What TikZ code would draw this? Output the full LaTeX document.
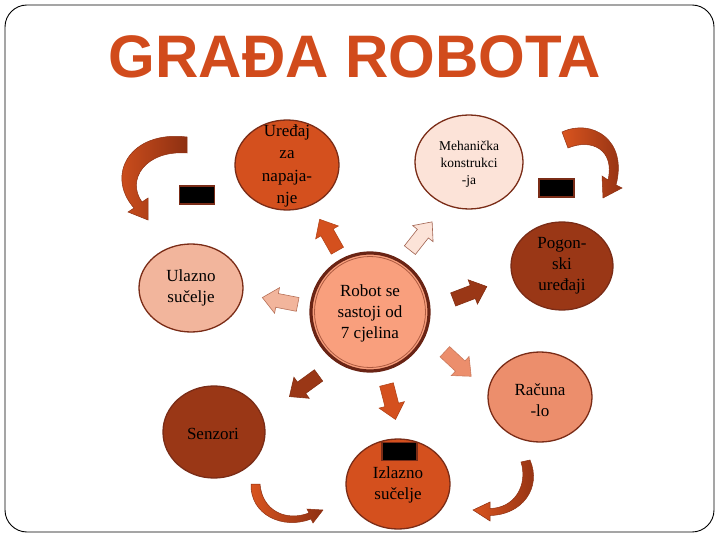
\documentclass[tikz,border=0pt]{standalone}
\usepackage{fontspec}
\setmainfont{Liberation Serif}
\newfontfamily\titlefont{Liberation Sans}
\usetikzlibrary{shapes.geometric}
\definecolor{titlec}{HTML}{D14B1C}
\definecolor{orng}{HTML}{D4501E}
\definecolor{pinkl}{HTML}{FCE3D8}
\definecolor{brownd}{HTML}{9A3716}
\definecolor{salm}{HTML}{EC8E6C}
\definecolor{salml}{HTML}{F2B59C}
\definecolor{centerc}{HTML}{F99F7D}
\definecolor{edgec}{HTML}{7A2C17}
\definecolor{ringc}{HTML}{6A2415}
\definecolor{curvl}{HTML}{D9541F}
\definecolor{curvd}{HTML}{8E3012}
\begin{document}
\begin{tikzpicture}[x=1pt,y=-1pt,
  every node/.style={inner sep=0pt, outer sep=0pt},
  part/.style={ellipse, draw=edgec, line width=1.3pt},
  lbl/.style={align=center, text=black, font=\fontsize{17}{21}\selectfont},
  blk/.style={rectangle, fill=black, draw=edgec, line width=1.3pt, minimum width=35pt, minimum height=18pt},
  barrow/.pic={\filldraw[pic actions, line width=0.6pt] (-18,-7) -- (3,-7) -- (3,-13) -- (18,0) -- (3,13) -- (3,7) -- (-18,7) -- cycle;},
  curved/.style={left color=curvl, right color=curvd, draw=curvd, line width=0.5pt},
  ]
\useasboundingbox (0,0) rectangle (720,540);
\draw[line width=0.9pt, rounded corners=22pt] (5,5) rectangle (714,532);

% title
\node[anchor=base, text=titlec, font=\titlefont\bfseries\fontsize{60}{60}\selectfont] (title) at (355,78) {GRAĐA ROBOTA};

% parts
\node[part, fill=orng, minimum width=104pt, minimum height=90pt] (pow) at (287,165) {};
\node[lbl, font=\fontsize{17}{22.5}\selectfont] (powt) at (287,166) {Uređaj\\za\\napaja-\\nje};

\node[part, fill=pinkl, minimum width=108pt, minimum height=94pt] (mech) at (469,162) {};
\node[lbl, font=\fontsize{13.5}{17}\selectfont] (mecht) at (469,164) {Mehanička\\konstrukci\\-ja};

\node[part, fill=brownd, minimum width=102pt, minimum height=88pt] (drv) at (562,266) {};
\node[lbl] (drvt) at (562,266) {Pogon-\\ski\\uređaji};

\node[part, fill=salm, minimum width=104pt, minimum height=90pt] (cpu) at (540,397) {};
\node[lbl] (cput) at (540,400) {Računa\\-lo};

\node[part, fill=orng, minimum width=104pt, minimum height=90pt] (out) at (398,484) {};
\node[blk] (outblk) at (399.5,451.5) {};
\node[lbl] (outt) at (398,485) {Izlazno\\sučelje};

\node[part, fill=brownd, minimum width=102pt, minimum height=92pt] (sens) at (214,432) {};
\node[lbl] (senst) at (213,434) {Senzori};

\node[part, fill=salml, minimum width=104pt, minimum height=88pt] (inp) at (191,288) {};
\node[lbl] (inpt) at (191,288) {Ulazno\\sučelje};

\node[circle, fill=centerc, draw=ringc, line width=3.2pt, minimum size=118pt] (robot) at (370,312) {};
\node[circle, draw=edgec!60!centerc, line width=0.8pt, minimum size=111pt] (robotin) at (370,312) {};
\node[lbl] (robott) at (370,313) {Robot se\\sastoji od\\7 cjelina};

% black boxes
\node[blk] (blk1) at (197,195) {};
\node[blk] (blk2) at (556.5,188) {};

% block arrows
\pic[rotate=119.5, fill=orng, draw=orng!85!black] (a1) at (328.5,235) {barrow};
\pic[rotate=51.8, fill=pinkl, draw=edgec!70!pinkl] (a2) at (421,236) {barrow};
\pic[rotate=169, fill=salml, draw=edgec!50!salml] (a3) at (280,301) {barrow};
\pic[rotate=21, fill=brownd, draw=brownd!85!black] (a4) at (470,293) {barrow};
\pic[rotate=-43, fill=salm, draw=salm!85!black] (a5) at (458,364) {barrow};
\pic[rotate=-75.6, fill=orng, draw=orng!85!black] (a6) at (391,402) {barrow};
\pic[rotate=-144, fill=brownd, draw=brownd!85!black] (a7) at (304,386) {barrow};

% curved arrows
\path[curved] (187,137) .. controls (130,130) and (105,175) .. (134,208) -- (128,212) -- (148,220) -- (148,198) -- (142,202) .. controls (126,180) and (145,150) .. (187,153) -- cycle;
\path[curved] (562,132) .. controls (592,118) and (628,140) .. (616,185) -- (622,188) -- (603,198) -- (602,176) -- (608,180) .. controls (615,150) and (592,138) .. (568,148) -- cycle;
\path[curved] (251,484) .. controls (250,515) and (283,530) .. (311,519) -- (313,523) -- (323,510) -- (307,509) -- (309,513) .. controls (285,522) and (262,510) .. (260,484) -- cycle;
\path[curved] (530,460) .. controls (542,488) and (522,515) .. (490,515.5) -- (490,521) -- (473,510) -- (490,502) -- (490,508.5) .. controls (515,508) and (528,485) .. (521,462) -- cycle;
\end{tikzpicture}
\end{document}
